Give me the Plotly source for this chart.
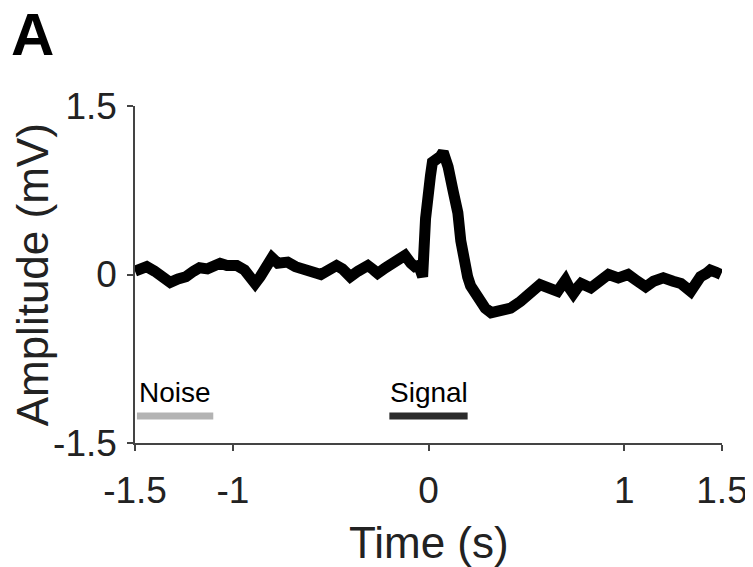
import plotly.graph_objects as go

time_s = [-1.50, -1.47, -1.44, -1.40, -1.36, -1.32, -1.28, -1.24, -1.20, -1.17, -1.13, -1.10,
          -1.065, -1.03, -0.98, -0.94, -0.91, -0.886, -0.86, -0.83, -0.80, -0.77, -0.72, -0.68,
          -0.63, -0.59, -0.55, -0.51, -0.47, -0.44, -0.40, -0.36, -0.31, -0.28, -0.26, -0.22,
          -0.19, -0.15, -0.12, -0.09, -0.07, -0.05, -0.03, -0.015, 0.00, 0.01, 0.02, 0.045,
          0.06, 0.075, 0.09, 0.10, 0.125, 0.15, 0.165, 0.18, 0.20, 0.215, 0.24, 0.27, 0.29,
          0.32, 0.35, 0.37, 0.42, 0.47, 0.51, 0.54, 0.57, 0.60, 0.63, 0.66, 0.68, 0.70, 0.72,
          0.74, 0.76, 0.78, 0.83, 0.87, 0.92, 0.97, 1.02, 1.06, 1.11, 1.15, 1.20, 1.25, 1.29,
          1.34, 1.37, 1.39, 1.42, 1.44, 1.47, 1.495]
amplitude_mv = [0.03, 0.05, 0.07, 0.03, -0.03, -0.07, -0.04, -0.02, 0.03, 0.06, 0.05, 0.07,
                0.10, 0.08, 0.08, 0.04, -0.02, -0.08, -0.02, 0.08, 0.15, 0.10, 0.11, 0.07,
                0.04, 0.02, 0.00, 0.04, 0.08, 0.05, -0.02, 0.03, 0.08, 0.04, 0.01, 0.06,
                0.10, 0.13, 0.17, 0.10, 0.07, 0.08, -0.02, 0.50, 0.87, 0.88, 1.00, 1.02,
                1.05, 1.09, 1.04, 0.96, 0.75, 0.55, 0.30, 0.07, -0.02, -0.10, -0.17, -0.25, -0.30,
                -0.34, -0.33, -0.33, -0.30, -0.24, -0.17, -0.12, -0.09, -0.11, -0.13, -0.15, -0.10, -0.05, -0.12,
                -0.17, -0.12, -0.08, -0.12, -0.07, 0.00, -0.03, 0.00, -0.05, -0.11, -0.06, -0.03, -0.06, -0.08,
                -0.15, -0.07, -0.02, 0.01, 0.04, 0.02, 0.00]

noise_window = [-1.49, -1.1]
signal_window = [-0.2, 0.2]
window_level = -1.26

x_tickvals = [-1.5, -1, 0, 1, 1.5]
x_ticktext = ["-1.5", "-1", "0", "1", "1.5"]
y_tickvals = [-1.5, 0, 1.5]
y_ticktext = ["-1.5", "0", "1.5"]

FONT = "Liberation Sans, Arial, sans-serif"

fig = go.Figure()
fig.add_trace(go.Scatter(x=noise_window, y=[window_level] * 2, mode="lines",
                         line=dict(color="#b3b3b3", width=7), showlegend=False, hoverinfo="skip"))
fig.add_trace(go.Scatter(x=signal_window, y=[window_level] * 2, mode="lines",
                         line=dict(color="#2b2b2b", width=7), showlegend=False, hoverinfo="skip"))
fig.add_trace(go.Scatter(x=time_s, y=amplitude_mv, mode="lines",
                         line=dict(color="black", width=11), showlegend=False))

fig.add_annotation(x=noise_window[0], y=-1.05, text="Noise", showarrow=False,
                   xanchor="left", yanchor="middle", font=dict(size=28, color="black", family=FONT))
fig.add_annotation(x=0, y=-1.05, text="Signal", showarrow=False,
                   xanchor="center", yanchor="middle", font=dict(size=28, color="black", family=FONT))
fig.add_annotation(x=-0.214, y=1.318, xref="paper", yref="paper", text="<b>A</b>", showarrow=False,
                   xanchor="left", yanchor="top", font=dict(size=60, color="black", family=FONT))
fig.add_annotation(x=0.5, y=-0.294, xref="paper", yref="paper", text="Time (s)", showarrow=False,
                   xanchor="center", yanchor="middle", font=dict(size=44, color="#222", family=FONT))
fig.add_annotation(x=-0.174, y=0.5, xref="paper", yref="paper", text="Amplitude (mV)", showarrow=False,
                   textangle=-90, xanchor="center", yanchor="middle",
                   font=dict(size=44, color="#222", family=FONT))

fig.update_layout(
    width=745, height=559,
    margin=dict(l=127, r=31, t=98, b=124),
    plot_bgcolor="white", paper_bgcolor="white",
    font=dict(family=FONT, color="#222"),
    xaxis=dict(range=[-1.5, 1.5], tickvals=x_tickvals, ticktext=x_ticktext, automargin=False,
               showline=True, linecolor="#444", linewidth=1.5, ticks="outside",
               ticklen=6, tickwidth=1.5, tickcolor="#444", showgrid=False, zeroline=False,
               tickfont=dict(size=37), ticklabelstandoff=8),
    yaxis=dict(range=[-1.5, 1.5], tickvals=y_tickvals, ticktext=y_ticktext, automargin=False,
               showline=True, linecolor="#444", linewidth=1.5, ticks="outside",
               ticklen=6, tickwidth=1.5, tickcolor="#444", showgrid=False, zeroline=False,
               tickfont=dict(size=37), ticklabelstandoff=3),
)

fig.write_html("out.html")
